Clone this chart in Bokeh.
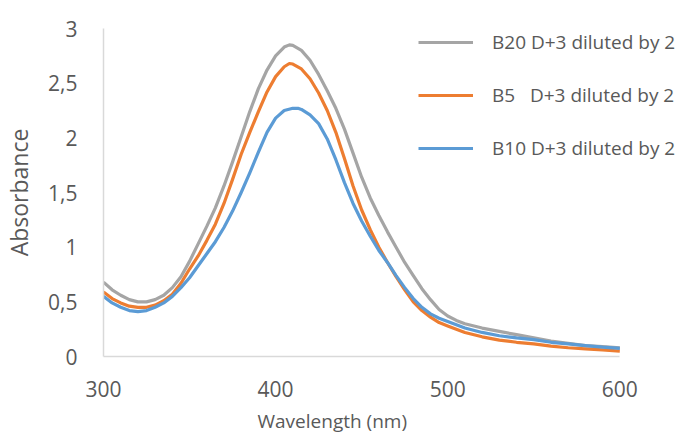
from bokeh.plotting import figure
from bokeh.models import Legend, LegendItem, FixedTicker, CustomJSTickFormatter, Range1d, Title
from bokeh.embed import file_html
from bokeh.resources import INLINE

wl_b20 = [300, 305, 310, 315, 320, 325, 330, 335, 340, 345, 350, 355, 360, 365, 370, 375, 380, 385, 390, 395, 400, 405, 408, 410, 415, 420, 425, 430, 435, 440, 445, 450, 455, 460, 465, 470, 475, 480, 485, 490, 495, 500, 505, 510, 520, 530, 540, 550, 560, 570, 580, 590, 600]
abs_b20 = [0.68, 0.61, 0.56, 0.52, 0.50, 0.50, 0.52, 0.56, 0.63, 0.73, 0.87, 1.03, 1.19, 1.36, 1.56, 1.78, 2.01, 2.24, 2.45, 2.62, 2.75, 2.83, 2.85, 2.845, 2.80, 2.71, 2.58, 2.43, 2.27, 2.08, 1.86, 1.64, 1.45, 1.29, 1.14, 1.00, 0.86, 0.74, 0.62, 0.52, 0.43, 0.37, 0.33, 0.30, 0.26, 0.23, 0.20, 0.17, 0.14, 0.12, 0.10, 0.09, 0.08]

wl_b5 = [300, 305, 310, 315, 320, 325, 330, 335, 340, 345, 350, 355, 360, 365, 370, 375, 380, 385, 390, 395, 400, 405, 408, 410, 415, 420, 425, 430, 435, 440, 445, 450, 455, 460, 465, 470, 475, 480, 485, 490, 495, 500, 510, 520, 530, 540, 550, 560, 570, 580, 590, 600]
abs_b5 = [0.59, 0.53, 0.49, 0.46, 0.45, 0.45, 0.47, 0.51, 0.57, 0.67, 0.80, 0.92, 1.06, 1.21, 1.40, 1.62, 1.85, 2.05, 2.24, 2.42, 2.56, 2.65, 2.68, 2.675, 2.63, 2.54, 2.41, 2.25, 2.05, 1.81, 1.56, 1.34, 1.16, 1.00, 0.86, 0.73, 0.61, 0.50, 0.42, 0.36, 0.31, 0.28, 0.22, 0.18, 0.15, 0.13, 0.115, 0.095, 0.08, 0.07, 0.06, 0.05]

wl_b10 = [300, 305, 310, 315, 320, 325, 330, 335, 340, 345, 350, 355, 360, 365, 370, 375, 380, 385, 390, 395, 400, 405, 410, 413, 415, 420, 425, 430, 435, 440, 445, 450, 455, 460, 465, 470, 475, 480, 485, 490, 495, 500, 510, 520, 530, 540, 550, 560, 570, 580, 590, 600]
abs_b10 = [0.55, 0.49, 0.45, 0.42, 0.41, 0.42, 0.45, 0.49, 0.55, 0.63, 0.72, 0.83, 0.94, 1.05, 1.18, 1.33, 1.50, 1.68, 1.87, 2.05, 2.18, 2.25, 2.27, 2.27, 2.26, 2.21, 2.13, 1.99, 1.80, 1.59, 1.40, 1.24, 1.10, 0.97, 0.86, 0.74, 0.63, 0.53, 0.45, 0.39, 0.35, 0.32, 0.26, 0.22, 0.19, 0.17, 0.155, 0.13, 0.115, 0.10, 0.085, 0.075]

series_labels = ["B20 D+3 diluted by 2", "B5   D+3 diluted by 2", "B10 D+3 diluted by 2"]
x_ticks = [300, 400, 500, 600]
y_ticks = [0, 0.5, 1, 1.5, 2, 2.5, 3]

FONT = "Open Sans"
GRAY_TXT = "#595959"

# frame spans to the right edge so the legend is not clipped; axis line bounded to 300..600
p = figure(width=678, height=444, output_backend="svg", toolbar_location=None,
           x_range=Range1d(300, 634.1), y_range=Range1d(0, 3),
           min_border_left=100, min_border_right=0, min_border_top=28, min_border_bottom=88)
p.outline_line_color = None
p.grid.visible = False

r1 = p.line(wl_b20, abs_b20, line_color="#A5A5A5", line_width=3.2, line_join="round")
r2 = p.line(wl_b5, abs_b5, line_color="#ED7D31", line_width=3.2, line_join="round")
r3 = p.line(wl_b10, abs_b10, line_color="#5B9BD5", line_width=3.2, line_join="round")

xax = p.xaxis[0]
yax = p.yaxis[0]
for ax in (xax, yax):
    ax.axis_line_color = "#D9D9D9"
    ax.axis_line_width = 1.5
    ax.major_tick_line_color = None
    ax.minor_tick_line_color = None
    ax.major_label_text_font = FONT
    ax.major_label_text_font_size = "21px"
    ax.major_label_text_color = GRAY_TXT
    ax.axis_label_text_font = FONT
    ax.axis_label_text_font_style = "normal"
    ax.axis_label_text_color = GRAY_TXT

xax.bounds = (300, 600)
yax.axis_label = "Absorbance"
yax.axis_label_text_font_size = "23px"
xax.ticker = FixedTicker(ticks=x_ticks)
yax.ticker = FixedTicker(ticks=y_ticks)
yax.formatter = CustomJSTickFormatter(code="return tick.toString().replace('.', ',');")
xax.major_label_standoff = 18
yax.major_label_standoff = 20
yax.axis_label_standoff = 10

# x-axis title centred under the 300..600 span (frame extends further right for the legend)
xtitle = Title(text="Wavelength (nm)", align="left", offset=154, standoff=12,
               text_font=FONT, text_font_size="19px", text_font_style="normal",
               text_color=GRAY_TXT)
p.add_layout(xtitle, "below")

legend = Legend(items=[LegendItem(label=series_labels[0], renderers=[r1]),
                       LegendItem(label=series_labels[1], renderers=[r2]),
                       LegendItem(label=series_labels[2], renderers=[r3])],
                location=(315, 195), orientation="vertical")
legend.background_fill_alpha = 0
legend.border_line_color = None
legend.padding = 0
legend.margin = 0
legend.spacing = 27
legend.glyph_width = 55
legend.glyph_height = 26
legend.label_height = 26
legend.label_standoff = 19
legend.label_text_font = FONT
legend.label_text_font_size = "19px"
legend.label_text_color = GRAY_TXT
p.add_layout(legend)

open("out.html", "w").write(file_html(p, INLINE))
